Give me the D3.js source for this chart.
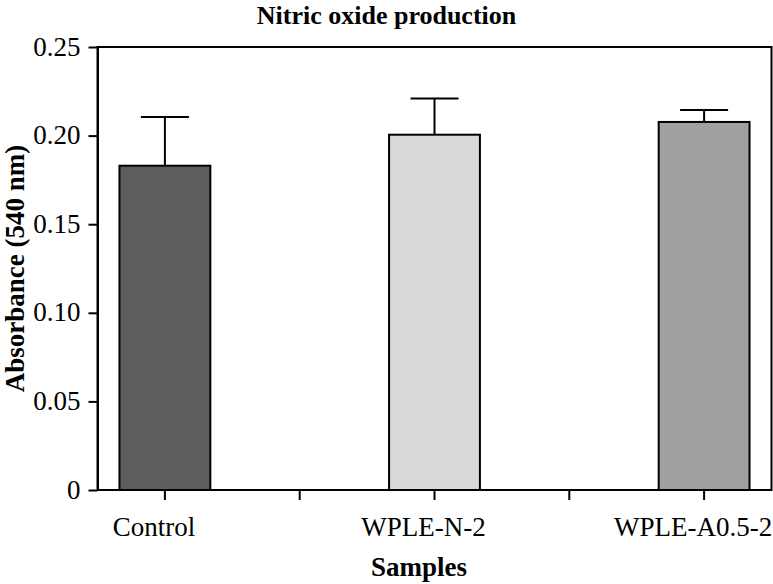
<!DOCTYPE html>
<html>
<head>
<meta charset="utf-8">
<script src="https://cdn.jsdelivr.net/npm/d3@7"></script>
<style>
  html, body { margin: 0; padding: 0; background: #fff; }
  svg { display: block; font-family: "Liberation Serif", "Times New Roman", serif; }
</style>
</head>
<body>
<svg id="chart" width="773" height="584"></svg>
<script>
// ---- Data ----
const categories = ["Control", "WPLE-N-2", "WPLE-A0.5-2"];
const means = [0.183, 0.2005, 0.2077];
const errors = [0.0275, 0.0205, 0.0068];
const barColors = ["#5e5e5e", "#d9d9d9", "#a0a0a0"];
const yTicks = [0, 0.05, 0.10, 0.15, 0.20, 0.25];
const yTickLabels = ["0", "0.05", "0.10", "0.15", "0.20", "0.25"];
const title = "Nitric oxide production";
const xTitle = "Samples";
const yTitle = "Absorbance (540 nm)";

// ---- Layout ----
const W = 773, H = 584;
const margin = { left: 97.5, right: 1.5, top: 47, bottom: 94 };
const plotL = margin.left, plotR = W - margin.right;
const plotT = margin.top, plotB = H - margin.bottom;

const svg = d3.select("#chart");

const x = d3.scalePoint().domain(categories).range([plotL, plotR]).padding(0.25);
const step = x.step();
const barW = step * 0.337;
const capW = step * 0.178;
const y = d3.scaleLinear().domain([0, 0.25]).range([plotB, plotT]);

const data = categories.map((c, i) => ({ c, m: means[i], e: errors[i], col: barColors[i] }));

// Bars
svg.append("g").selectAll("rect").data(data).join("rect")
  .attr("x", d => x(d.c) - barW / 2)
  .attr("y", d => y(d.m))
  .attr("width", barW)
  .attr("height", d => y(0) - y(d.m))
  .attr("fill", d => d.col)
  .attr("stroke", "#000")
  .attr("stroke-width", 2);

// Error bars (upper only)
const eg = svg.append("g").attr("stroke", "#000").attr("stroke-width", 2);
eg.selectAll("line.v").data(data).join("line").attr("class", "v")
  .attr("x1", d => x(d.c)).attr("x2", d => x(d.c))
  .attr("y1", d => y(d.m)).attr("y2", d => y(d.m + d.e));
eg.selectAll("line.cap").data(data).join("line").attr("class", "cap")
  .attr("x1", d => x(d.c) - capW / 2).attr("x2", d => x(d.c) + capW / 2)
  .attr("y1", d => y(d.m + d.e)).attr("y2", d => y(d.m + d.e));

// Frame
svg.append("rect")
  .attr("x", plotL).attr("y", plotT)
  .attr("width", plotR - plotL).attr("height", plotB - plotT)
  .attr("fill", "none").attr("stroke", "#000").attr("stroke-width", 2);

// Y axis
const yAxis = d3.axisLeft(y).tickValues(yTicks)
  .tickFormat((d, i) => yTickLabels[i]).tickSize(9).tickSizeOuter(0).tickPadding(8);
const yg = svg.append("g").attr("transform", `translate(${plotL},0)`).call(yAxis);
yg.attr("font-family", null);
yg.select(".domain").attr("stroke-width", 2);
yg.selectAll(".tick line").attr("stroke-width", 2);
yg.selectAll(".tick text").attr("font-size", 27).attr("fill", "#000")
  .attr("font-family", "Liberation Serif").attr("dy", "0.3em");

// X ticks: at category centres and midpoints
const xTickPos = [];
categories.forEach((c, i) => {
  xTickPos.push(x(c));
  if (i < categories.length - 1) xTickPos.push((x(c) + x(categories[i + 1])) / 2);
});
svg.append("g").selectAll("line").data(xTickPos).join("line")
  .attr("x1", d => d).attr("x2", d => d)
  .attr("y1", plotB).attr("y2", plotB + 10)
  .attr("stroke", "#000").attr("stroke-width", 2);

svg.append("g").selectAll("text").data(categories).join("text")
  .attr("x", d => x(d) - 11)
  .attr("y", plotB + 46)
  .attr("text-anchor", "middle")
  .attr("font-size", 27)
  .text(d => d);

// Titles
svg.append("text").attr("x", W / 2).attr("y", 24)
  .attr("text-anchor", "middle").attr("font-weight", "bold").attr("font-size", 26)
  .text(title);

svg.append("text").attr("x", 419).attr("y", 576)
  .attr("text-anchor", "middle").attr("font-weight", "bold").attr("font-size", 27)
  .text(xTitle);

svg.append("text")
  .attr("transform", `translate(23.5,${(plotT + plotB) / 2}) rotate(-90)`)
  .attr("text-anchor", "middle").attr("font-weight", "bold").attr("font-size", 27)
  .text(yTitle);
</script>
</body>
</html>
